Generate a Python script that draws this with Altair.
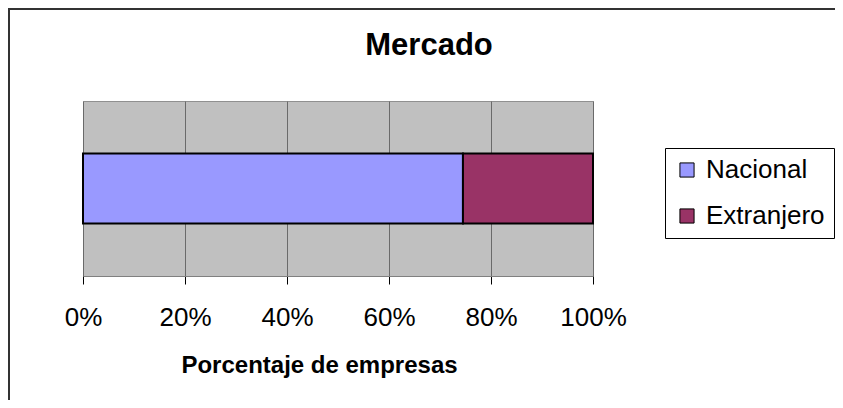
import altair as alt
import pandas as pd

# Data
categorias = ["Nacional", "Extranjero"]
porcentajes = [74.5, 25.5]
orden = [1, 2]
colores = ["#9999FF", "#993366"]
ticks = [0, 0.2, 0.4, 0.6, 0.8, 1.0]

df = pd.DataFrame({
    "Mercado": categorias,
    "Porcentaje": porcentajes,
    "orden": orden,
    "grupo": ["Mercado"] * len(categorias),
})

FONT = "Liberation Sans"

bars = alt.Chart(df).mark_bar(stroke="black", strokeWidth=2).encode(
    x=alt.X(
        "Porcentaje:Q",
        stack="normalize",
        scale=alt.Scale(domain=[0, 1], nice=False),
        axis=alt.Axis(
            format=".0%",
            values=ticks,
            title="Porcentaje de empresas",
            titleFont=FONT,
            titleFontSize=24,
            titleFontWeight="bold",
            titleColor="black",
            titleX=236,
            titleY=96,
            titleAlign="center",
            titleBaseline="alphabetic",
            labelFont=FONT,
            labelFontSize=26,
            labelColor="black",
            labelFlush=False,
            labelPadding=20,
            tickSize=8,
            tickColor="black",
            domainColor="#808080",
            grid=True,
            gridColor="#6a6a6a",
            gridWidth=1,
        ),
    ),
    y=alt.Y("grupo:N", axis=None,
            scale=alt.Scale(paddingInner=0, paddingOuter=0.75)),
    color=alt.Color(
        "Mercado:N",
        scale=alt.Scale(domain=categorias, range=colores),
        legend=alt.Legend(
            title=None,
            orient="none",
            legendX=582,
            legendY=47,
            strokeColor="black",
            fillColor="white",
            padding=9,
            symbolType="square",
            symbolSize=200,
            symbolStrokeColor="black",
            symbolStrokeWidth=1,
            symbolOpacity=1,
            labelFont=FONT,
            labelFontSize=26,
            labelColor="black",
            labelOffset=6,
            rowPadding=20,
        ),
    ),
    order=alt.Order("orden:Q"),
)

frame = alt.Chart(pd.DataFrame({"f": [0]})).mark_rect(
    fillOpacity=0, stroke="#333333", strokeWidth=2
).encode(
    x=alt.value(-74), x2=alt.value(900),
    y=alt.value(-92), y2=alt.value(500),
)

chart = alt.layer(bars, frame).properties(
    width=510,
    height=175,
    autosize=alt.AutoSizeParams(type="none"),
    padding={"left": 75, "top": 93, "right": 242, "bottom": 124},
    title=alt.TitleParams(
        text="Mercado",
        font=FONT,
        fontSize=31,
        fontWeight="bold",
        color="black",
        anchor="middle",
        frame="group",
        dx=91,
        offset=0,
        dy=54,
    ),
).configure(background="white").configure_view(
    fill="#C0C0C0", stroke="#909090", strokeWidth=1
)

chart.save("out.html", embed_options={"renderer": "svg", "actions": False})
